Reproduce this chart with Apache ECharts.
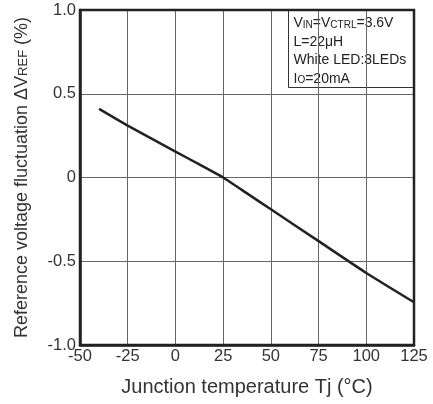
<!DOCTYPE html>
<html><head><meta charset="utf-8">
<script src="https://cdn.jsdelivr.net/npm/echarts@6/dist/echarts.min.js"></script>
<style>html,body{margin:0;padding:0;background:#fff}#c{width:433px;height:404px}</style>
</head><body><div id="c"></div>
<script>
const temps = [-40, -25, 0, 12.5, 25, 37.5, 50, 75, 100, 125];
const dvref = [0.41, 0.31, 0.155, 0.078, 0, -0.095, -0.19, -0.38, -0.57, -0.745];
const xTicks = [-50, -25, 0, 25, 50, 75, 100, 125];
const yTickLabels = {'1': '1.0', '0.5': '0.5', '0': '0', '-0.5': '-0.5', '-1': '-1.0'};
const F = 'Liberation Sans, Arial, sans-serif';
const chart = echarts.init(document.getElementById('c'));
chart.setOption({
  animation: false,
  grid: {left: 80, right: 19, top: 10, bottom: 59, show: true, borderColor: '#222', borderWidth: 2.5, backgroundColor: 'transparent', z: 5},
  xAxis: {
    type: 'value', min: -50, max: 125, interval: 25,
    axisLine: {show: true, onZero: false, lineStyle: {color: '#222', width: 2.5}},
    axisTick: {show: false},
    axisLabel: {color: '#333', fontFamily: F, fontSize: 16.5, margin: 3},
    splitLine: {show: true, lineStyle: {color: '#666', width: 1}},
    name: 'Junction temperature Tj (°C)', nameLocation: 'middle', nameGap: 32,
    nameTextStyle: {color: '#333', fontFamily: F, fontSize: 20}
  },
  yAxis: {
    type: 'value', min: -1, max: 1, interval: 0.5,
    axisLine: {show: true, onZero: false, lineStyle: {color: '#222', width: 2.5}},
    axisTick: {show: false},
    axisLabel: {color: '#333', fontFamily: F, fontSize: 16.5, margin: 4,
      formatter: v => yTickLabels[String(v)] ?? String(v)},
    splitLine: {show: true, lineStyle: {color: '#666', width: 1}},
    name: '{a|Reference voltage fluctuation ΔV}{b|REF}{a| (%)}', nameLocation: 'middle', nameGap: 49,
    nameTextStyle: {rich: {
      a: {color: '#333', fontFamily: F, fontSize: 18},
      b: {color: '#333', fontFamily: F, fontSize: 13, padding: [3, 0, 0, 0]}
    }}
  },
  graphic: [{
    type: 'group', left: 288, top: 10, z: 100,
    children: [
      {type: 'rect', shape: {x: 0, y: 0, width: 126, height: 77}, style: {fill: '#fff', stroke: '#333', lineWidth: 1}},
      {type: 'text', x: 5, y: 3.5, style: {
        text: 'V{s|IN}=V{s|CTRL}=3.6V\nL=22μH\nWhite LED:3LEDs\nI{s|O}=20mA',
        fill: '#222', font: '14px ' + F, lineHeight: 18.5,
        rich: {s: {fontSize: 10, fontFamily: F, fill: '#222', padding: [3, 0, 0, 0]}}
      }}
    ]
  }],
  series: [{
    type: 'line', data: temps.map((t, i) => [t, dvref[i]]), smooth: 0.15,
    showSymbol: false, symbol: 'none', lineStyle: {color: '#222', width: 2.5}, z: 10
  }]
});
</script></body></html>
